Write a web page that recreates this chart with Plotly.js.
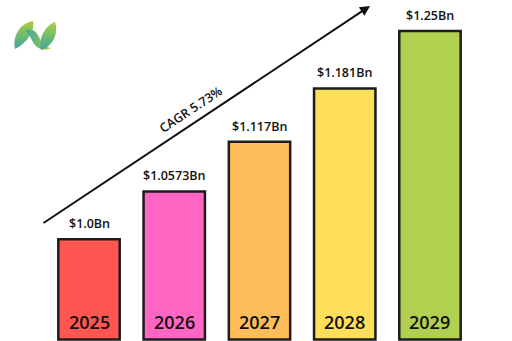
<!DOCTYPE html>
<html>
<head>
<meta charset="utf-8">
<script src="https://cdn.plot.ly/plotly-3.0.1.min.js"></script>
<style>html,body{margin:0;padding:0;background:#fff;}#chart{width:512px;height:341px;}</style>
</head>
<body>
<div id="chart"></div>
<script>
const years = ["2025", "2026", "2027", "2028", "2029"];
const values = [1.0, 1.0573, 1.117, 1.181, 1.25];
const valueLabels = ["$1.0Bn", "$1.0573Bn", "$1.117Bn", "$1.181Bn", "$1.25Bn"];
const barColors = ["#FF5652", "#FF66C4", "#FFBD59", "#FFDE59", "#B2D04F"];
const cagrLabel = "CAGR 5.73%";

const BASE = 0.8796;
const Y_RANGE = [0.8778, 1.2872];
const X_RANGE = [-1.044, 4.962];

const idx = years.map((_, i) => i);

const trace = {
  type: "bar",
  x: idx,
  y: values.map(v => v - BASE),
  base: BASE,
  width: 0.72,
  marker: {color: barColors, line: {color: "#1c1c1c", width: 2.5}},
  hoverinfo: "skip"
};

const annotations = [];
idx.forEach(i => {
  annotations.push({
    x: i, y: values[i], xref: "x", yref: "y",
    text: valueLabels[i], showarrow: false,
    yanchor: "bottom", yshift: 5,
    font: {family: "Open Sans", size: 12.5, color: "#111", weight: 600}
  });
  annotations.push({
    x: i, y: BASE, xref: "x", yref: "y",
    text: years[i], showarrow: false,
    yanchor: "bottom", yshift: 4,
    font: {family: "Open Sans", size: 18, color: "#111", weight: 600}
  });
});
annotations.push({
  xref: "paper", yref: "paper",
  x: 370 / 512, y: 1 - 6 / 341,
  ax: -328, ay: 218, axref: "pixel", ayref: "pixel",
  showarrow: true, arrowhead: 2, arrowsize: 1, arrowwidth: 2, arrowcolor: "#111",
  text: ""
});
annotations.push({
  xref: "paper", yref: "paper",
  x: 191 / 512, y: 1 - 110 / 341,
  xanchor: "center", yanchor: "middle",
  text: cagrLabel, showarrow: false, textangle: -33.6,
  font: {family: "Open Sans", size: 12.5, color: "#111", weight: 600}
});

const logoSvg = '<svg xmlns="http://www.w3.org/2000/svg" viewBox="0 0 50 34" width="50" height="34">' +
  '<defs><linearGradient id="g" x1="0" y1="0" x2="0" y2="1">' +
  '<stop offset="0" stop-color="#A8D03A"/><stop offset="1" stop-color="#3DA6A0"/></linearGradient>' +
  '<linearGradient id="h" x1="0" y1="0" x2="1" y2="0">' +
  '<stop offset="0" stop-color="#3DA6A0"/><stop offset="1" stop-color="#A8D03A"/></linearGradient></defs>' +
  '<path d="M5,31 C2,17 11,5 23,3 C25,13 17,25 5,31 Z" fill="url(#g)"/>' +
  '<path d="M15,13 C22,9 27,14 30,21 C32,26 36,29 41,30 C33,34 26,30 23,24 C20,18 18,15 15,13 Z" fill="url(#h)"/>' +
  '<path d="M45,4 C49,16 42,29 31,32 C28,20 35,8 45,4 Z" fill="url(#g)"/>' +
  '</svg>';

const layout = {
  width: 512, height: 341,
  margin: {l: 0, r: 0, t: 0, b: 0},
  paper_bgcolor: "#ffffff", plot_bgcolor: "#ffffff",
  showlegend: false,
  xaxis: {range: X_RANGE, visible: false, fixedrange: true},
  yaxis: {range: Y_RANGE, visible: false, fixedrange: true},
  annotations: annotations,
  images: [{
    source: "data:image/svg+xml;charset=utf-8," + encodeURIComponent(logoSvg),
    xref: "paper", yref: "paper",
    x: 10 / 512, y: 1 - 18 / 341, sizex: 50 / 512, sizey: 34 / 341,
    xanchor: "left", yanchor: "top", sizing: "stretch", layer: "above"
  }]
};

Plotly.newPlot("chart", [trace], layout, {displayModeBar: false, staticPlot: true});
</script>
</body>
</html>
